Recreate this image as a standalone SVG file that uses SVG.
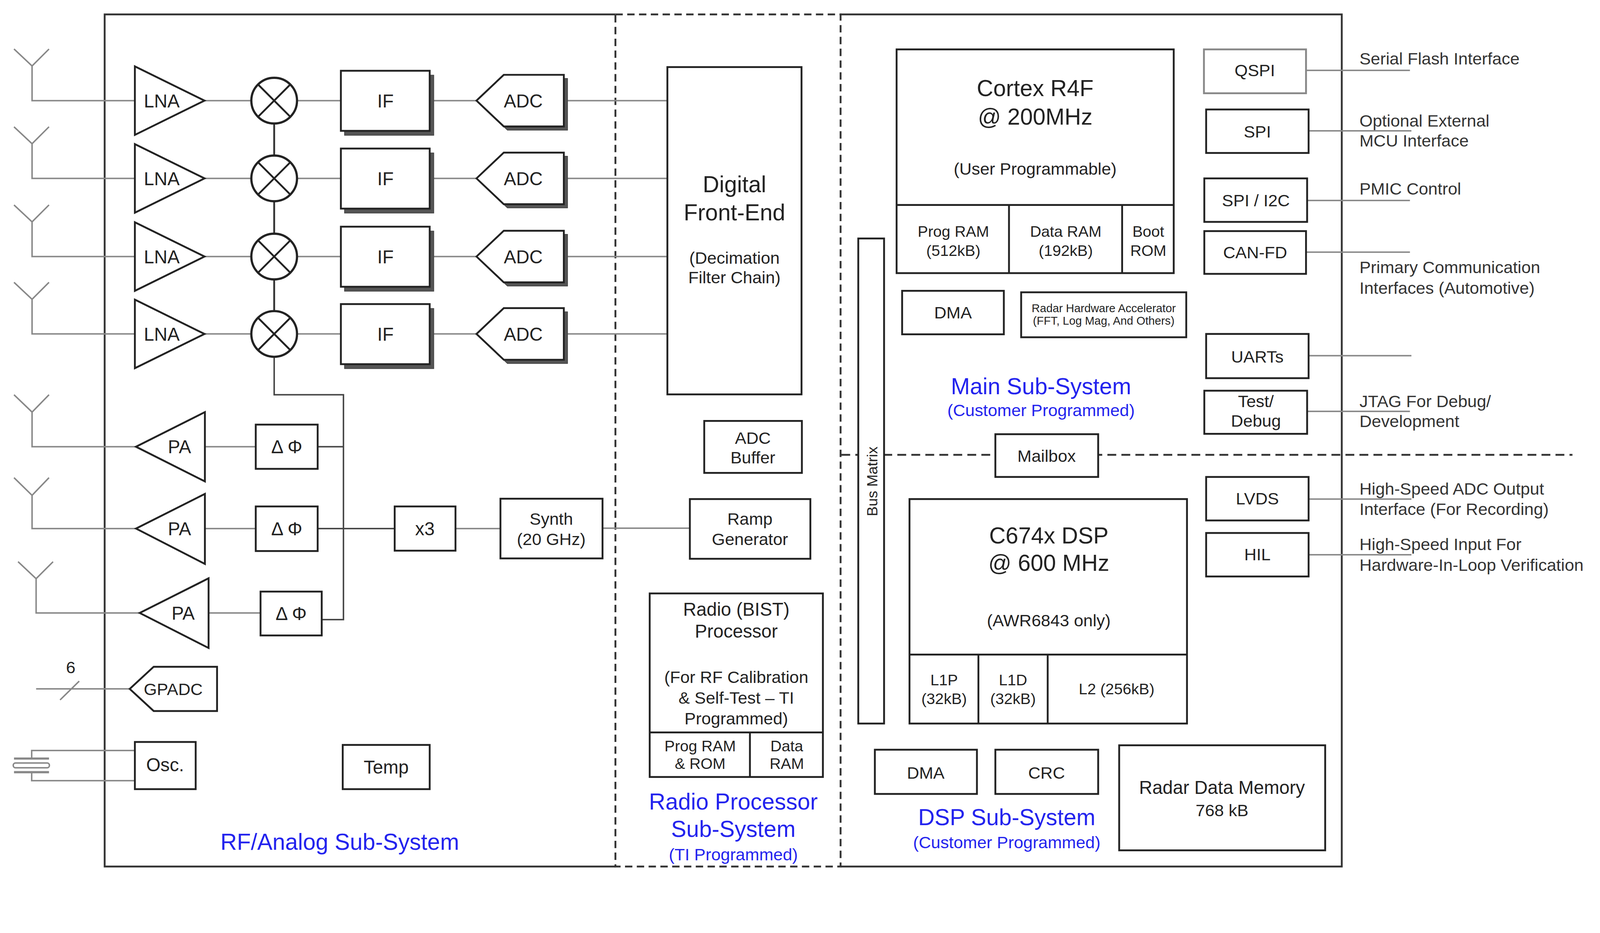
<svg xmlns="http://www.w3.org/2000/svg" width="4342" height="2388" viewBox="0 0 4342 2388">
<style>
.box{fill:#fff;stroke:#222;stroke-width:5}
.lbox{fill:#fff;stroke:#888;stroke-width:5}
.sh{fill:#555;stroke:#444;stroke-width:2}
.w{stroke:#888;stroke-width:4;fill:none}
.dw{stroke:#444;stroke-width:4;fill:none}
.frame{stroke:#333;stroke-width:5;fill:none}
.dash{stroke:#333;stroke-width:5;fill:none;stroke-dasharray:20 12}
.t{font-family:'Liberation Sans',Arial,Helvetica,sans-serif;fill:#222;text-anchor:middle}
.f62{font-size:62px}.f50{font-size:50px}.f46{font-size:46px}.f42{font-size:42px}.f40{font-size:40px}.f31{font-size:31px}
.blue{fill:#2323ee}
.lbl{font-family:'Liberation Sans',Arial,Helvetica,sans-serif;fill:#333;font-size:46px;text-anchor:start}
</style>
<rect x="0" y="0" width="4342" height="2388" fill="#fff"/>
<g transform="scale(0.9434)">
<g id="frame">
<path class="frame" d="M1670,39 L284,39 L284,2351 L1670,2351"/>
<path class="frame" d="M2281,39 L3641,39 L3641,2351 L2281,2351"/>
<rect class="dash" x="1670" y="39" width="611" height="2312"/>
<line class="dash" x1="2283" y1="1234" x2="4267" y2="1234" style="stroke-dasharray:24 14"/>
</g>

<g id="connectors">
<path class="w" d="M38,133 L87,179 L133,133 M87,179 L87,273 L366,273"/>
<path class="w" d="M38,344 L87,390 L133,344 M87,390 L87,484 L366,484"/>
<path class="w" d="M38,556 L87,602 L133,556 M87,602 L87,696 L366,696"/>
<path class="w" d="M38,766 L87,812 L133,766 M87,812 L87,906 L366,906"/>
<path class="w" d="M555,273 H682 M806,273 H925 M1166,273 H1293 M1530,273 H1811"/>
<path class="w" d="M555,484 H682 M806,484 H925 M1166,484 H1293 M1530,484 H1811"/>
<path class="w" d="M555,696 H682 M806,696 H925 M1166,696 H1293 M1530,696 H1811"/>
<path class="w" d="M555,906 H682 M806,906 H925 M1166,906 H1293 M1530,906 H1811"/>
<line x1="744" y1="273" x2="744" y2="906" stroke="#333" stroke-width="5"/>
<path class="dw" d="M744,968 L744,1071 L932,1071 L932,1681 L873,1681 M862,1212 L932,1212 M862,1434 L1071,1434"/>
<path class="w" d="M38,1071 L87,1118 L133,1071 M87,1118 L87,1212 L369,1212"/>
<path class="w" d="M38,1296 L87,1344 L133,1296 M87,1344 L87,1434 L369,1434"/>
<path class="w" d="M49,1524 L98,1570 L144,1524 M98,1570 L98,1663 L379,1663"/>
<path class="w" d="M556,1212 H694 M556,1434 H694 M566,1663 H707"/>
<path class="w" d="M1236,1434 H1358 M1635,1433 H1872"/>
<path class="w" d="M98,1869 H352 M163,1899 L215,1848"/>
<path class="w" d="M86,2058 V2036 H366 M86,2095 V2118 H366"/>
<path class="w" d="M38,2058 H133 M38,2095 H133" style="stroke-width:6"/>
<rect x="36" y="2070" width="98" height="13" rx="6" fill="#fff" stroke="#888" stroke-width="4"/>
<path class="w" d="M3544,191 H3826 M3551,355 H3830 M3547,544 H3826 M3544,684 H3826 M3551,965 H3830 M3547,1116 H3826 M3551,1354 H3830 M3551,1505 H3830"/>
</g>

<g id="lna1"><polygon class="box" points="366,180 555,273 366,366"/><text class="t f50" x="439" y="291">LNA</text></g>
<g id="lna2"><polygon class="box" points="366,391 555,484 366,577"/><text class="t f50" x="439" y="502">LNA</text></g>
<g id="lna3"><polygon class="box" points="366,603 555,696 366,789"/><text class="t f50" x="439" y="714">LNA</text></g>
<g id="lna4"><polygon class="box" points="366,813 555,906 366,999"/><text class="t f50" x="439" y="924">LNA</text></g>

<g id="mix1"><circle class="box" cx="744" cy="273" r="62" style="stroke-width:6"/><path d="M700,229 L788,317 M700,317 L788,229" stroke="#222" stroke-width="5"/></g>
<g id="mix2"><circle class="box" cx="744" cy="484" r="62" style="stroke-width:6"/><path d="M700,440 L788,528 M700,528 L788,440" stroke="#222" stroke-width="5"/></g>
<g id="mix3"><circle class="box" cx="744" cy="696" r="62" style="stroke-width:6"/><path d="M700,652 L788,740 M700,740 L788,652" stroke="#222" stroke-width="5"/></g>
<g id="mix4"><circle class="box" cx="744" cy="906" r="62" style="stroke-width:6"/><path d="M700,862 L788,950 M700,950 L788,862" stroke="#222" stroke-width="5"/></g>

<g id="if1"><rect class="sh" x="935" y="204" width="242" height="163"/><rect class="box" x="925" y="192" width="241" height="163"/><text class="t f50" x="1046" y="291">IF</text></g>
<g id="if2"><rect class="sh" x="935" y="415" width="242" height="163"/><rect class="box" x="925" y="403" width="241" height="163"/><text class="t f50" x="1046" y="502">IF</text></g>
<g id="if3"><rect class="sh" x="935" y="627" width="242" height="163"/><rect class="box" x="925" y="615" width="241" height="163"/><text class="t f50" x="1046" y="714">IF</text></g>
<g id="if4"><rect class="sh" x="935" y="837" width="242" height="163"/><rect class="box" x="925" y="825" width="241" height="163"/><text class="t f50" x="1046" y="924">IF</text></g>

<g id="adc1"><polygon class="sh" points="1303,283 1377,213 1540,213 1540,353 1377,353"/><polygon class="box" points="1293,273 1367,203 1530,203 1530,343 1367,343"/><text class="t f50" x="1420" y="291">ADC</text></g>
<g id="adc2"><polygon class="sh" points="1303,494 1377,424 1540,424 1540,564 1377,564"/><polygon class="box" points="1293,484 1367,414 1530,414 1530,554 1367,554"/><text class="t f50" x="1420" y="502">ADC</text></g>
<g id="adc3"><polygon class="sh" points="1303,706 1377,636 1540,636 1540,776 1377,776"/><polygon class="box" points="1293,696 1367,626 1530,626 1530,766 1367,766"/><text class="t f50" x="1420" y="714">ADC</text></g>
<g id="adc4"><polygon class="sh" points="1303,916 1377,846 1540,846 1540,986 1377,986"/><polygon class="box" points="1293,906 1367,836 1530,836 1530,976 1367,976"/><text class="t f50" x="1420" y="924">ADC</text></g>

<g id="pa1"><polygon class="box" points="369,1212 556,1118 556,1306"/><text class="t f50" x="487" y="1230">PA</text></g>
<g id="pa2"><polygon class="box" points="369,1434 556,1340 556,1530"/><text class="t f50" x="487" y="1452">PA</text></g>
<g id="pa3"><polygon class="box" points="379,1663 566,1569 566,1758"/><text class="t f50" x="497" y="1681">PA</text></g>

<g id="phase1"><rect class="box" x="694" y="1152" width="168" height="120"/><text class="t f50" x="778" y="1230">Δ Φ</text></g>
<g id="phase2"><rect class="box" x="694" y="1374" width="168" height="121"/><text class="t f50" x="778" y="1452">Δ Φ</text></g>
<g id="phase3"><rect class="box" x="707" y="1605" width="166" height="119"/><text class="t f50" x="790" y="1682">Δ Φ</text></g>

<g id="x3"><rect class="box" x="1071" y="1374" width="165" height="120"/><text class="t f50" x="1153" y="1452">x3</text></g>
<g id="synth"><rect class="box" x="1358" y="1353" width="277" height="162"/><text class="t f46" x="1496" y="1424">Synth</text><text class="t f46" x="1496" y="1479">(20 GHz)</text></g>

<g id="gpadc"><polygon class="box" points="352,1869 417,1809 589,1809 589,1929 417,1929"/><text class="t f46" x="470" y="1886">GPADC</text><text class="t f46" x="192" y="1826">6</text></g>
<g id="osc"><rect class="box" x="366" y="2013" width="165" height="128"/><text class="t f50" x="448" y="2092">Osc.</text></g>
<g id="temp"><rect class="box" x="930" y="2021" width="236" height="120"/><text class="t f50" x="1048" y="2099">Temp</text></g>
<g id="rf-label"><text class="t f62 blue" x="922" y="2305">RF/Analog Sub-System</text></g>

<g id="dfe"><rect class="box" x="1811" y="182" width="364" height="888"/>
<text class="t f62" x="1993" y="522">Digital</text><text class="t f62" x="1993" y="598">Front-End</text>
<text class="t f46" x="1993" y="716">(Decimation</text><text class="t f46" x="1993" y="769">Filter Chain)</text></g>
<g id="adcbuf"><rect class="box" x="1911" y="1142" width="265" height="141"/><text class="t f46" x="2043" y="1204">ADC</text><text class="t f46" x="2043" y="1257">Buffer</text></g>
<g id="ramp"><rect class="box" x="1872" y="1354" width="327" height="162"/><text class="t f46" x="2035" y="1424">Ramp</text><text class="t f46" x="2035" y="1479">Generator</text></g>

<g id="bist"><rect class="box" x="1763" y="1610" width="470" height="498"/>
<path d="M1763,1987 H2233 M2035,1987 V2108" stroke="#222" stroke-width="5"/>
<text class="t f50" x="1998" y="1671">Radio (BIST)</text><text class="t f50" x="1998" y="1730">Processor</text>
<text class="t f46" x="1998" y="1853">(For RF Calibration</text><text class="t f46" x="1998" y="1909">&amp; Self-Test  – TI</text><text class="t f46" x="1998" y="1965">Programmed)</text>
<text class="t f42" x="1900" y="2038">Prog RAM</text><text class="t f42" x="1900" y="2086">&amp; ROM</text>
<text class="t f42" x="2135" y="2038">Data</text><text class="t f42" x="2135" y="2086">RAM</text></g>
<g id="radio-label"><text class="t f62 blue" x="1990" y="2196">Radio Processor</text><text class="t f62 blue" x="1990" y="2271">Sub-System</text><text class="t f46 blue" x="1990" y="2334">(TI Programmed)</text></g>

<g id="busmatrix"><rect class="box" x="2329" y="647" width="70" height="1316"/><text class="t f40" transform="translate(2381,1306) rotate(-90)">Bus Matrix</text></g>

<g id="cortex"><rect class="box" x="2433" y="134" width="752" height="607"/>
<path d="M2433,556 H3185 M2738,556 V741 M3045,556 V741" stroke="#222" stroke-width="5"/>
<text class="t f62" x="2809" y="261">Cortex R4F</text><text class="t f62" x="2809" y="338">@ 200MHz</text>
<text class="t f46" x="2809" y="474">(User Programmable)</text>
<text class="t f42" x="2587" y="642">Prog RAM</text><text class="t f42" x="2587" y="694">(512kB)</text>
<text class="t f42" x="2892" y="642">Data RAM</text><text class="t f42" x="2892" y="694">(192kB)</text>
<text class="t f42" x="3116" y="642">Boot</text><text class="t f42" x="3116" y="694">ROM</text></g>
<g id="dma-main"><rect class="box" x="2448" y="789" width="276" height="118"/><text class="t f46" x="2586" y="864">DMA</text></g>
<g id="hwa"><rect class="box" x="2771" y="793" width="448" height="122"/><text class="t f31" x="2995" y="847">Radar Hardware Accelerator</text><text class="t f31" x="2995" y="881">(FFT, Log Mag, And Others)</text></g>
<g id="main-label"><text class="t f62 blue" x="2825" y="1070">Main Sub-System</text><text class="t f46 blue" x="2825" y="1129">(Customer Programmed)</text></g>

<g id="mailbox"><rect class="box" x="2701" y="1178" width="279" height="116"/><text class="t f46" x="2840" y="1253">Mailbox</text></g>

<g id="dsp"><rect class="box" x="2468" y="1354" width="753" height="609"/>
<path d="M2468,1776 H3221 M2655,1776 V1963 M2843,1776 V1963" stroke="#222" stroke-width="5"/>
<text class="t f62" x="2846" y="1474">C674x DSP</text><text class="t f62" x="2846" y="1549">@ 600 MHz</text>
<text class="t f46" x="2846" y="1699">(AWR6843 only)</text>
<text class="t f42" x="2562" y="1859">L1P</text><text class="t f42" x="2562" y="1910">(32kB)</text>
<text class="t f42" x="2749" y="1859">L1D</text><text class="t f42" x="2749" y="1910">(32kB)</text>
<text class="t f42" x="3030" y="1884">L2 (256kB)</text></g>
<g id="dma-dsp"><rect class="box" x="2374" y="2034" width="277" height="120"/><text class="t f46" x="2512" y="2113">DMA</text></g>
<g id="crc"><rect class="box" x="2701" y="2034" width="279" height="120"/><text class="t f46" x="2840" y="2113">CRC</text></g>
<g id="rdm"><rect class="box" x="3037" y="2022" width="559" height="285"/><text class="t f50" x="3316" y="2154">Radar Data Memory</text><text class="t f46" x="3316" y="2214">768 kB</text></g>
<g id="dsp-label"><text class="t f62 blue" x="2732" y="2239">DSP Sub-System</text><text class="t f46 blue" x="2732" y="2301">(Customer Programmed)</text></g>

<g id="qspi"><rect class="lbox" x="3267" y="134" width="277" height="119"/><text class="t f46" x="3405" y="207">QSPI</text></g>
<g id="spi"><rect class="box" x="3273" y="297" width="278" height="118"/><text class="t f46" x="3412" y="373">SPI</text></g>
<g id="spii2c"><rect class="box" x="3268" y="484" width="279" height="118"/><text class="t f46" x="3408" y="560">SPI / I2C</text></g>
<g id="canfd"><rect class="box" x="3268" y="627" width="276" height="116"/><text class="t f46" x="3406" y="701">CAN-FD</text></g>
<g id="uarts"><rect class="box" x="3273" y="906" width="278" height="120"/><text class="t f46" x="3412" y="984">UARTs</text></g>
<g id="testdebug"><rect class="box" x="3268" y="1060" width="279" height="117"/><text class="t f46" x="3408" y="1104">Test/</text><text class="t f46" x="3408" y="1158">Debug</text></g>
<g id="lvds"><rect class="box" x="3273" y="1294" width="278" height="118"/><text class="t f46" x="3412" y="1368">LVDS</text></g>
<g id="hil"><rect class="box" x="3273" y="1446" width="278" height="118"/><text class="t f46" x="3412" y="1520">HIL</text></g>

<g id="labels">
<text class="lbl" x="3689" y="175">Serial Flash Interface</text>
<text class="lbl" x="3689" y="343">Optional External</text>
<text class="lbl" x="3689" y="397">MCU Interface</text>
<text class="lbl" x="3689" y="528">PMIC Control</text>
<text class="lbl" x="3689" y="741">Primary Communication</text>
<text class="lbl" x="3689" y="797">Interfaces (Automotive)</text>
<text class="lbl" x="3689" y="1104">JTAG For Debug/</text>
<text class="lbl" x="3689" y="1159">Development</text>
<text class="lbl" x="3689" y="1342">High-Speed ADC Output</text>
<text class="lbl" x="3689" y="1397">Interface (For Recording)</text>
<text class="lbl" x="3689" y="1493">High-Speed Input For</text>
<text class="lbl" x="3689" y="1549">Hardware-In-Loop Verification</text>
</g>
</g>
</svg>
